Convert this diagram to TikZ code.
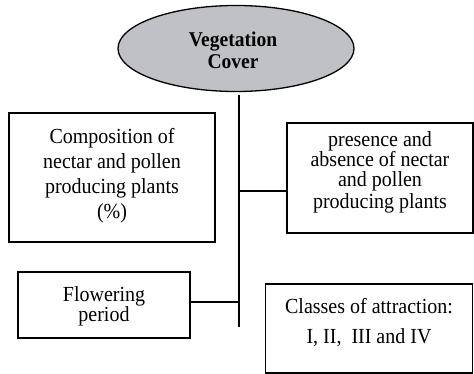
\documentclass[tikz,border=0pt]{standalone}
\usepackage{fontspec}
\setmainfont{Liberation Serif}[FakeStretch=0.93]
\usetikzlibrary{shapes.geometric}
\definecolor{ellfill}{RGB}{192,193,197}
\begin{document}
\begin{tikzpicture}[x=1pt,y=-1pt,
  box/.style={draw, line width=1.3pt, inner sep=0pt, rectangle},
  txt/.style={align=center, inner sep=0pt},
  conn/.style={line width=1.3pt}]
\useasboundingbox (0,0) rectangle (474,374);
% central ellipse
\node[ellipse, draw, line width=1.3pt, fill=ellfill, minimum width=236pt, minimum height=86pt, inner sep=0pt] (veg) at (236,48.5) {};
\node[txt, font=\bfseries\fontsize{21}{22}\selectfont] (vegt) at (233,50) {Vegetation\\Cover};
% boxes
\node[box, minimum width=206pt, minimum height=129pt] (comp) at (112,177.5) {};
\node[box, minimum width=186pt, minimum height=110pt] (pres) at (380,178) {};
\node[box, minimum width=172pt, minimum height=66pt] (flow) at (104,305) {};
\node[box, minimum width=207pt, minimum height=89pt] (cls) at (369,328.5) {};
% texts
\node[txt, font=\fontsize{21.5}{25}\selectfont] (compt) at (112,175.5) {Composition of\\nectar and pollen\\producing plants\\(\%)};
\node[txt, font=\fontsize{21.5}{21.5}\selectfont] (prest) at (380,172.5) {presence and\\[-1.5pt]absence of nectar\\[-1.5pt]and pollen\\[1pt]producing plants};
\node[txt, font=\fontsize{21.5}{19.5}\selectfont] (flowt) at (104,306.5) {Flowering\\period};
\node[txt, font=\fontsize{21.5}{30}\selectfont] (clst) at (369,322.5) {Classes of attraction:\\I, II,\ \ III and IV};
% connectors
\coordinate (top) at (239,95);
\coordinate (bot) at (239,327);
\coordinate (j1) at (239,191);
\coordinate (j2) at (239,302);
\draw[conn] (top) -- (bot);
\draw[conn] (j1) -- (j1 -| pres.west);
\draw[conn] (j2) -- (j2 -| flow.east);
\end{tikzpicture}
\end{document}
